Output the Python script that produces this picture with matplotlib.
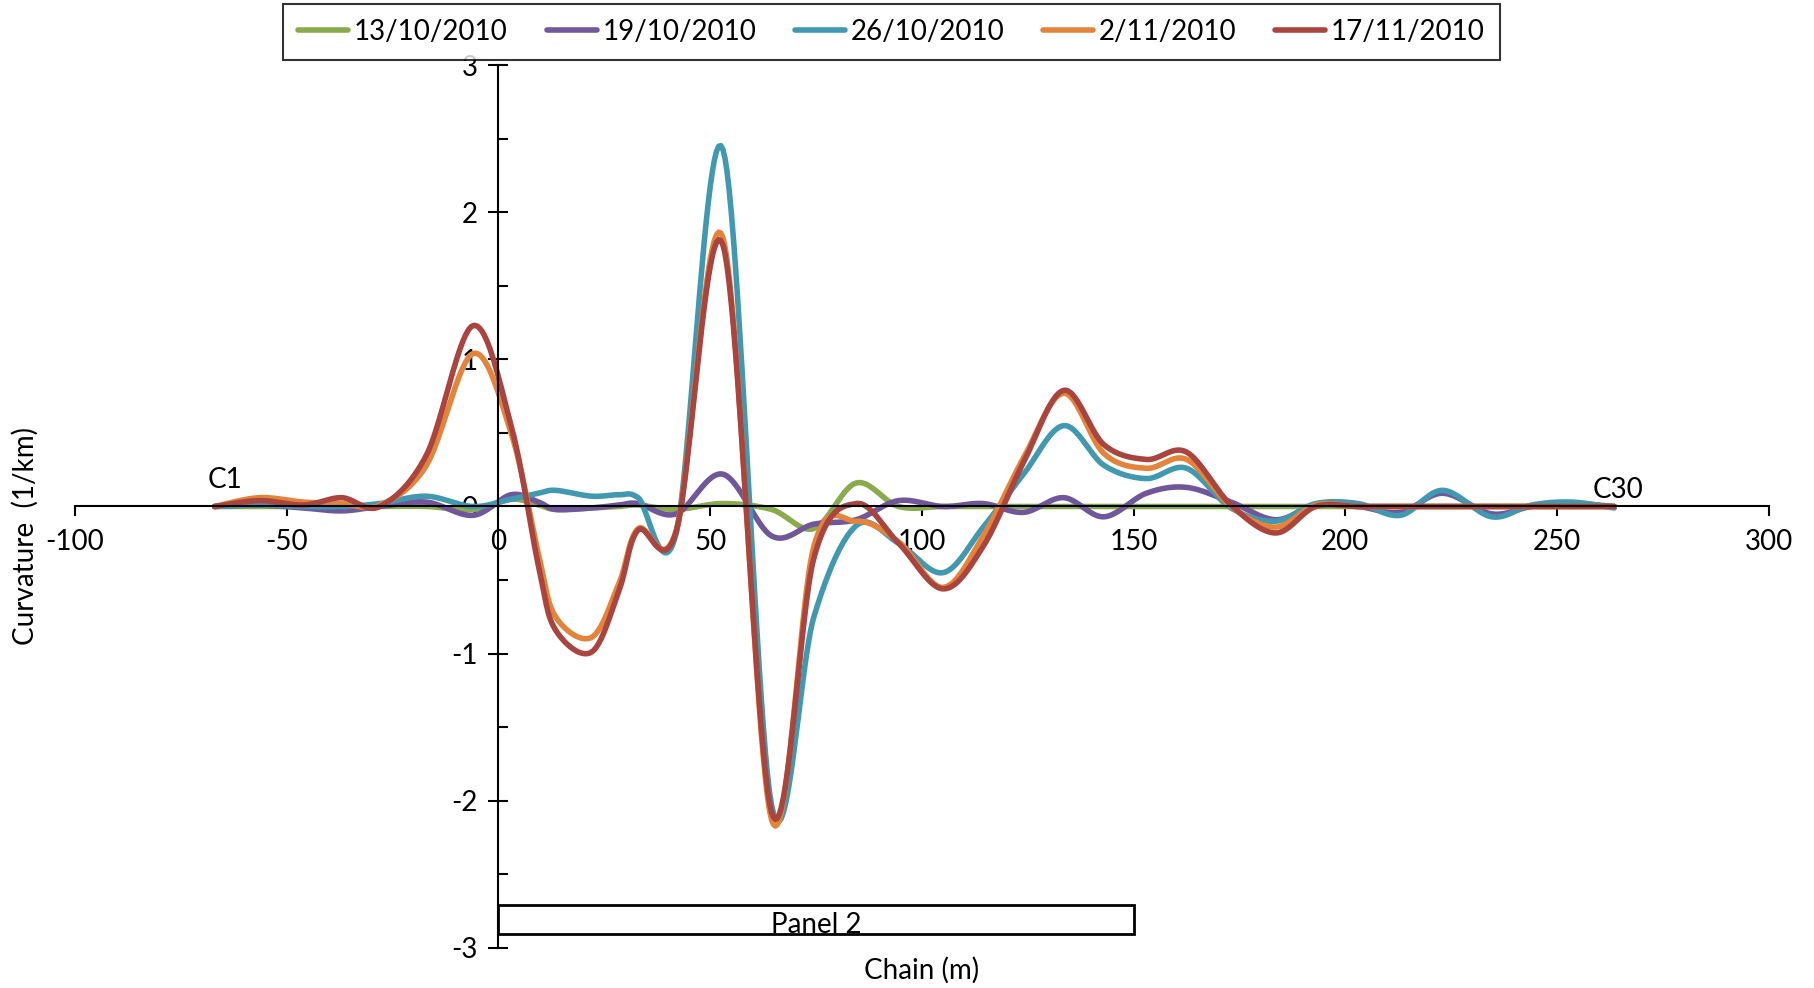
import matplotlib
matplotlib.use("Agg")
import matplotlib.pyplot as plt
import numpy as np
from matplotlib.patches import Rectangle
from matplotlib.ticker import MultipleLocator, FuncFormatter

plt.rcParams["font.family"] = ["Lato", "DejaVu Sans"]

# chainage of the readings (m)
chain = [-67, -56.5, -46, -37, -28, -17, -6, 3, 9.5, 13.5, 22, 28.5, 33, 42, 53, 64.5, 74.5,
         84.5, 94.5, 105, 114.5, 124, 133.5, 143, 153, 162.5, 173, 183.5, 193,
         203, 213, 223, 234.5, 244, 253.5, 263.5]

# curvature (1/km) per survey date
curv_1310 = [0, 0, 0, 0, 0, 0, -0.02, 0.05, 0.01, -0.02, -0.01, 0, 0.01, -0.02, 0.02, -0.02, -0.15,
             0.16, 0.0, 0, 0, 0, 0, 0, 0, 0, 0, 0, 0,
             0, 0, 0, 0, 0, 0, 0]
curv_1910 = [0, 0.01, -0.01, -0.03, 0, 0.03, -0.06, 0.08, 0.03, -0.02, -0.01, 0.01, 0.02, -0.05, 0.22, -0.2, -0.12,
             -0.09, 0.04, 0, 0.02, -0.04, 0.06, -0.07, 0.09, 0.13, 0.03, -0.09, 0.01,
             0, -0.04, 0.09, -0.05, 0, 0.02, 0]
curv_2610 = [0, 0.01, 0, 0, 0.02, 0.07, 0, 0.05, 0.09, 0.11, 0.07, 0.08, 0.06, -0.18, 2.43, -2.03, -0.75,
             -0.13, -0.25, -0.45, -0.14, 0.22, 0.55, 0.28, 0.19, 0.26, -0.01, -0.1, 0.02,
             0.02, -0.06, 0.11, -0.07, 0.01, 0.03, -0.01]
curv_0211 = [0, 0.06, 0.03, 0.02, 0.01, 0.28, 1.04, 0.5, -0.33, -0.75, -0.89, -0.52, -0.15, -0.16, 1.83, -2.13, -0.27,
             -0.1, -0.24, -0.55, -0.2, 0.33, 0.77, 0.36, 0.26, 0.32, 0, -0.14, 0.01,
             0, 0, 0, 0, 0, 0, 0]
curv_1711 = [0, 0.04, 0.01, 0.06, 0, 0.35, 1.23, 0.55, -0.41, -0.84, -0.99, -0.57, -0.16, -0.17, 1.78, -2.08, -0.35,
             0.02, -0.25, -0.56, -0.27, 0.3, 0.79, 0.42, 0.32, 0.37, 0.01, -0.18, 0,
             0, 0, 0, 0, 0, 0, 0]

dates = ["13/10/2010", "19/10/2010", "26/10/2010", "2/11/2010", "17/11/2010"]
series = [curv_1310, curv_1910, curv_2610, curv_0211, curv_1711]
colors = ["#8AAB4C", "#70579A", "#4199B1", "#E3843A", "#A9443F"]


def smooth(xs, ys, n=24):
    # Excel-like smoothed line: cubic bezier through the points
    p = np.column_stack([xs, ys]).astype(float)
    p = np.vstack([p[0], p, p[-1]])
    t = np.linspace(0, 1, n)[:, None]
    out = []
    for i in range(1, len(p) - 2):
        p0, p1, p2, p3 = p[i - 1], p[i], p[i + 1], p[i + 2]
        c1 = p1 + (p2 - p0) / 6
        c2 = p2 - (p3 - p1) / 6
        seg = (1 - t) ** 3 * p1 + 3 * (1 - t) ** 2 * t * c1 + 3 * (1 - t) * t ** 2 * c2 + t ** 3 * p2
        out.append(seg if i == 1 else seg[1:])
    out = np.vstack(out)
    return out[:, 0], out[:, 1]


fig = plt.figure(figsize=(18.14, 9.88), dpi=100)
ax = fig.add_axes([0.0413, 0.0409, 0.9338, 0.8929])

for vals, col, lab in zip(series, colors, dates):
    sx, sy = smooth(chain, vals)
    ax.plot(sx, sy, color=col, lw=4.0, label=lab, solid_capstyle="round")

ax.set_xlim(-100, 300)
ax.set_ylim(-3, 3)
for s in ("top", "right"):
    ax.spines[s].set_visible(False)
ax.spines["left"].set_position(("data", 0))
ax.spines["bottom"].set_position(("data", 0))
ax.spines["left"].set_linewidth(1.5)
ax.spines["bottom"].set_linewidth(1.5)

ax.xaxis.set_major_locator(MultipleLocator(50))
ax.yaxis.set_major_locator(MultipleLocator(1))
ax.yaxis.set_minor_locator(MultipleLocator(0.5))
ax.tick_params(axis="x", direction="out", length=7, width=1.5, labelsize=20, pad=9)
ax.tick_params(axis="y", which="major", direction="inout", length=14, width=1.5, labelsize=20, pad=8)
ax.tick_params(axis="y", which="minor", direction="in", length=7, width=1.5)
ax.xaxis.set_major_formatter(FuncFormatter(lambda v, _: f"{v:g}"))
ax.yaxis.set_major_formatter(FuncFormatter(lambda v, _: f"{v:g}"))

# panel 2 bar
ax.add_patch(Rectangle((0, -2.91), 150, 0.2, facecolor="white", edgecolor="black", lw=2, zorder=3))
ax.text(75, -2.935, "Panel 2", ha="center", va="bottom", fontsize=20, zorder=4)

ax.text(-64.5, 0.18, "C1", ha="center", va="center", fontsize=20)
ax.text(264.5, 0.115, "C30", ha="center", va="center", fontsize=20)

fig.text(922 / 1814, 1 - 970 / 988, "Chain (m)", ha="center", va="center", fontsize=20)
fig.text(25 / 1814, 1 - 536 / 988, "Curvature  (1/km)", ha="center", va="center",
         rotation=90, fontsize=20)

leg = fig.legend(loc="center", bbox_to_anchor=(0.4915, 0.9676), ncol=5, fontsize=20,
                 frameon=True, fancybox=False, edgecolor="black", handlelength=1.8,
                 handletextpad=0.2, columnspacing=1.4, borderpad=0.55)
leg.get_frame().set_linewidth(1.5)

fig.savefig("out.png", dpi=100, facecolor="white")
